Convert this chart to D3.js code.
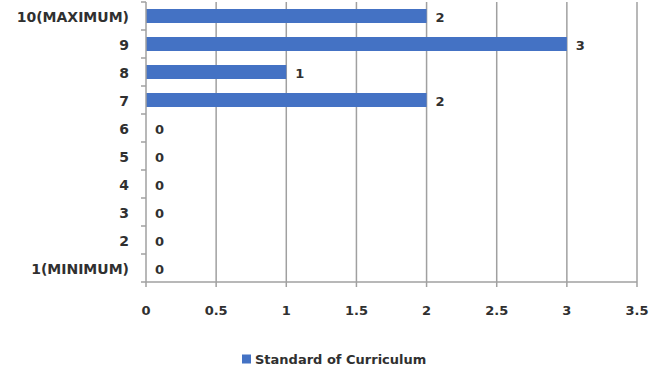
<!DOCTYPE html>
<html><head><meta charset="utf-8">
<script src="https://cdn.jsdelivr.net/npm/d3@7"></script>
<style>body{margin:0;background:#fff}svg{display:block}text{font-family:"DejaVu Sans",sans-serif;font-size:13px;font-weight:bold;fill:#303030}</style>
</head><body><svg id="c" width="666" height="376"></svg>
<script>
const categories = ["10(MAXIMUM)","9","8","7","6","5","4","3","2","1(MINIMUM)"];
const values = [2,3,1,2,0,0,0,0,0,0];
const xTicks = [0,0.5,1,1.5,2,2.5,3,3.5];
const seriesName = "Standard of Curriculum";

const svg = d3.select("#c");
const m = {l:146, r:637, t:2, b:282};
const x = d3.scaleLinear().domain([0,3.5]).range([m.l, m.r]);
const y = d3.scaleBand().domain(categories).range([m.t, m.b]).paddingInner(0.5).paddingOuter(0.25);
const yb = d3.scaleBand().domain(categories).range([m.t, m.b]);
const grid = "#a0a0a0";

svg.append("g").selectAll("line").data(xTicks.slice(1)).join("line")
  .attr("x1",d=>x(d)).attr("x2",d=>x(d)).attr("y1",m.t).attr("y2",m.b)
  .attr("stroke",grid).attr("stroke-width",1.5);

svg.append("g").selectAll("rect").data(values).join("rect")
  .attr("x",x(0)).attr("y",(d,i)=>y(categories[i]))
  .attr("width",d=>x(d)-x(0)).attr("height",y.bandwidth())
  .attr("fill","#4472C4");

svg.append("g").selectAll("text").data(values).join("text")
  .attr("x",d=>x(d)+9).attr("y",(d,i)=>y(categories[i])+y.bandwidth()/2+1)
  .attr("dy","0.35em").text(d=>d);

const ya = svg.append("g").attr("transform",`translate(${m.l},0)`);
ya.append("line").attr("x1",0).attr("x2",0).attr("y1",m.t).attr("y2",m.b).attr("stroke",grid).attr("stroke-width",1.5);
ya.selectAll("line.t").data(categories.map(c=>yb(c))).join("line").attr("class","t")
  .attr("x1",-5).attr("x2",0).attr("y1",d=>d).attr("y2",d=>d).attr("stroke",grid).attr("stroke-width",1.5);
ya.selectAll("text").data(categories).join("text")
  .attr("x",-17).attr("y",d=>yb(d)+yb.bandwidth()/2+1).attr("dy","0.35em")
  .attr("text-anchor","end").style("font-size","14px").text(d=>d);

const xa = svg.append("g").attr("transform",`translate(0,${m.b})`);
xa.append("line").attr("x1",m.l-5).attr("x2",m.r).attr("stroke",grid).attr("stroke-width",1.5);
xa.selectAll("line.t").data(xTicks).join("line").attr("class","t")
  .attr("x1",d=>x(d)).attr("x2",d=>x(d)).attr("y1",0).attr("y2",5).attr("stroke",grid).attr("stroke-width",1.5);
xa.selectAll("text").data(xTicks).join("text")
  .attr("x",d=>x(d)).attr("y",28).attr("dy","0.35em").attr("text-anchor","middle").text(d=>d);

const lg = svg.append("g").attr("transform","translate(242,359)");
lg.append("rect").attr("x",0).attr("y",-4.5).attr("width",9).attr("height",9).attr("fill","#4472C4");
lg.append("text").attr("x",13).attr("y",0).attr("dy","0.35em").text(seriesName);
</script></body></html>
